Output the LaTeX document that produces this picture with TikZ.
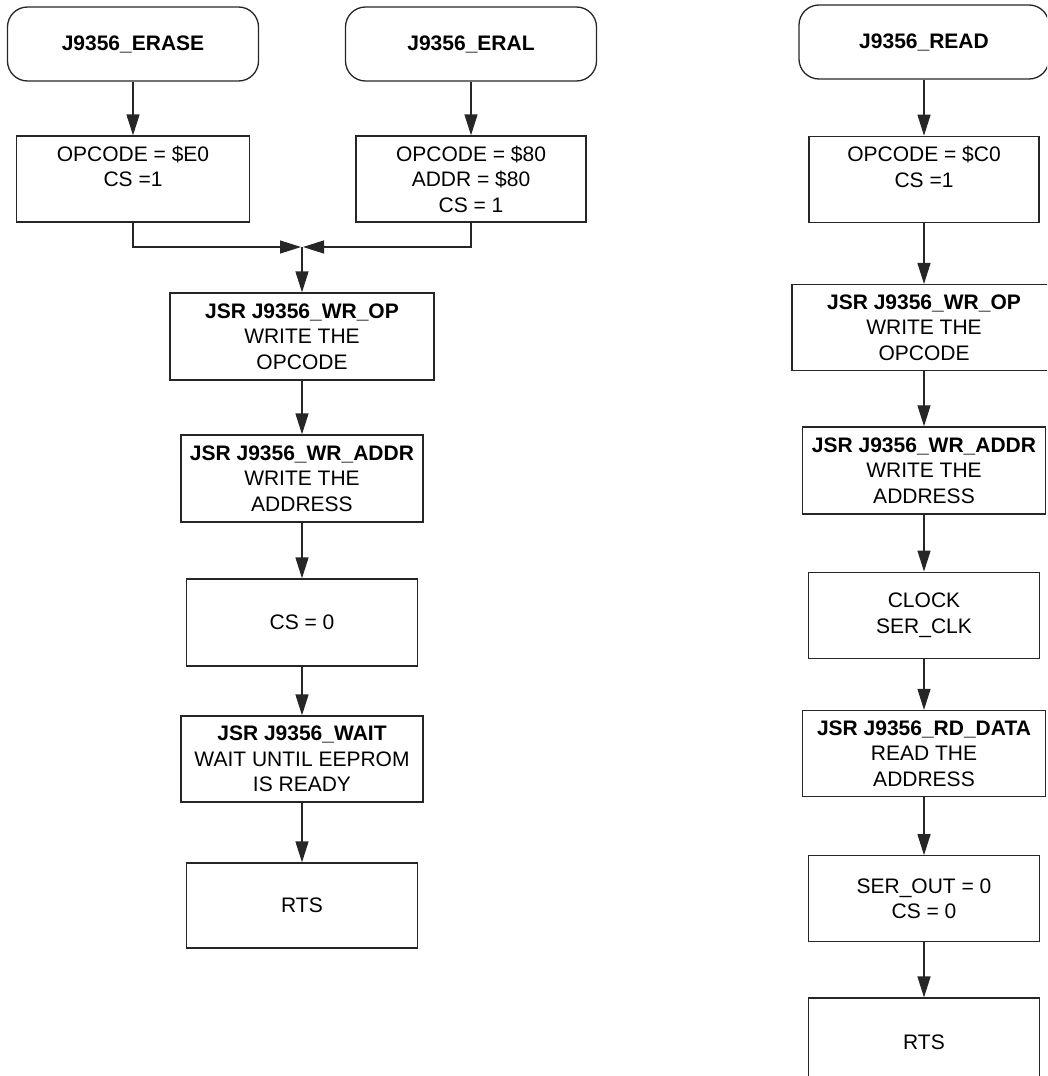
\documentclass[tikz,border=0pt]{standalone}
\usepackage{fontspec}
\setmainfont{Liberation Sans}
\usepackage{tikz}
\usetikzlibrary{positioning}
\usetikzlibrary{arrows.meta}
\tikzstyle{line} = [draw, -{Triangle[length=21pt, width=13pt]}]

\begin{document}
\begin{tikzpicture}[x=1pt, y=-1pt, line width=1.3pt, draw=black!85,
			internal/.style={draw, rectangle, inner sep=0pt, minimum width=231pt, minimum height=86pt},
			start/.style={internal, rounded corners=20pt, minimum height=74pt, font=\bfseries\fontsize{21pt}{25.5pt}\selectfont},
			every node/.style={font=\fontsize{21pt}{25.5pt}\selectfont},
			every text node part/.style={align=center}]
			\useasboundingbox (0,0) rectangle (1047,1076);
			\clip (0,0) rectangle (1047,1076);
			
			% entry points
			\node[start, minimum width=251pt](erase) at (133, 44) {J9356\_ERASE};
			\node[start, minimum width=251pt](eral) at (471, 44) {J9356\_ERAL};
			\node[start, minimum width=250pt](read) at (924, 42) {J9356\_READ};
			
			\node[internal, minimum width=233pt](opE) at (133, 179) {OPCODE = \$E0\\CS =1\\~};
			\node[internal, minimum width=230pt](op80) at (471, 179) {OPCODE = \$80\\ADDR = \$80\\CS = 1};
			\draw[line] (erase) -- (opE);
			\draw[line] (eral) -- (op80);
			
			% erase / eral share the rest
			\coordinate (joinL) at (301, 247);
			\coordinate (joinR) at (303, 247);
			\coordinate (join) at (302, 247);
			\draw[line] (opE) |- (joinL);
			\draw[line] (op80) |- (joinR);
			
			\node[internal, minimum width=264pt, minimum height=87pt](wrop) at (302, 336.5) {\textbf{JSR J9356\_WR\_OP}\\WRITE THE\\OPCODE};
			\node[internal, minimum width=242pt, minimum height=87pt](wraddr) at (302, 478.5) {\textbf{JSR J9356\_WR\_ADDR}\\WRITE THE\\ADDRESS};
			\node[internal, minimum height=87pt](cs0) at (302, 622.5) {CS = 0};
			\node[internal, minimum width=242pt](wait) at (302, 759) {\textbf{JSR J9356\_WAIT}\\WAIT UNTIL EEPROM\\IS READY};
			\node[internal, minimum height=85pt](rtsl) at (302, 905.5) {RTS};
			
			\draw[line] (join) -- (wrop);
			\draw[line] (wrop) -- (wraddr);
			\draw[line] (wraddr) -- (cs0);
			\draw[line] (cs0) -- (wait);
			\draw[line] (wait) -- (rtsl);
			
			% read
			\node[internal, minimum width=230pt, below=56pt of read](opC) {OPCODE = \$C0\\CS =1\\~};
			\node[internal, minimum width=264pt, below=61pt of opC](wropr) {\textbf{JSR J9356\_WR\_OP}\\WRITE THE\\OPCODE};
			\node[internal, minimum width=243pt, minimum height=87pt, below=55pt of wropr](wraddrr) {\textbf{JSR J9356\_WR\_ADDR}\\WRITE THE\\ADDRESS};
			\node[internal, below=57pt of wraddrr](clk) {CLOCK\\SER\_CLK};
			\node[internal, minimum width=243pt, below=51pt of clk](rddata) {\textbf{JSR J9356\_RD\_DATA}\\READ THE\\ADDRESS};
			\node[internal, below=58pt of rddata](serout) {SER\_OUT = 0\\CS = 0};
			\node[internal, minimum height=88pt, below=55pt of serout](rtsr) {RTS};
			
			\draw[line] (read) -- (opC);
			\draw[line] (opC) -- (wropr);
			\draw[line] (wropr) -- (wraddrr);
			\draw[line] (wraddrr) -- (clk);
			\draw[line] (clk) -- (rddata);
			\draw[line] (rddata) -- (serout);
			\draw[line] (serout) -- (rtsr);
			
		\end{tikzpicture}
\end{document}
